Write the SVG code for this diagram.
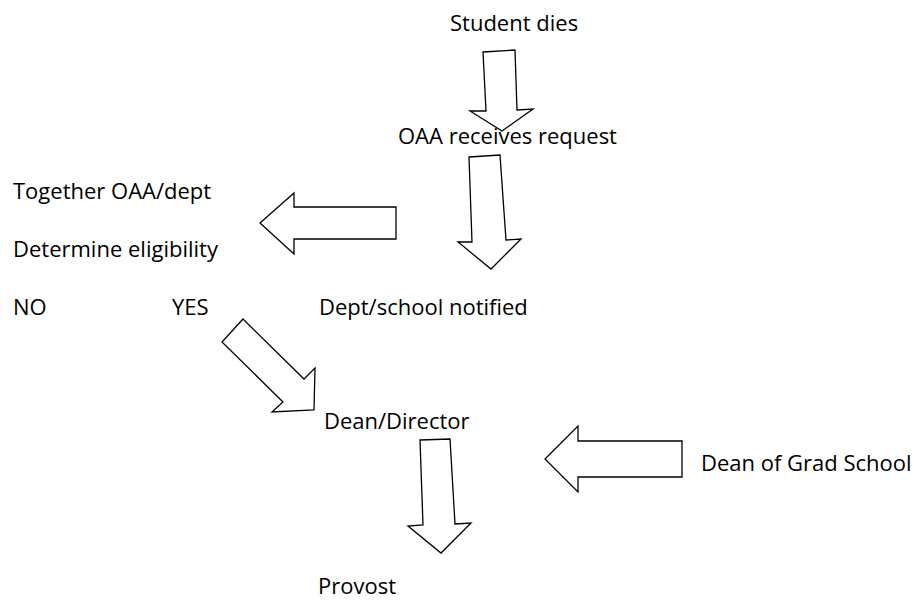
<svg xmlns="http://www.w3.org/2000/svg" width="914" height="602" viewBox="0 0 914 602">
<style>
text{font-family:"Open Sans","Liberation Sans",sans-serif;font-size:22px;fill:#000}
.arr{fill:#fff;stroke:#000;stroke-width:1.3;stroke-linejoin:miter}
</style>
<rect width="914" height="602" fill="#fff"/>
<g id="connectors">
<polygon class="arr" points="483,52 515,50 517,110 533,109 502,131 470,111 486,111"/>
<polygon class="arr" points="469,157 500,155 506,240 521,239 491,269 458,242 472,242"/>
<polygon class="arr" points="396,207 294,207 294,193 260,223 294,254 294,239 396,239"/>
<polygon class="arr" points="243,319 304,379 315,368 314,410 272,412 283,402 222,342"/>
<polygon class="arr" points="420,440 450,439 455,524 471,523 441,553 408,526 423,525"/>
<polygon class="arr" points="682,441 578,441 578,426 545,459 578,492 578,477 682,477"/>
</g>
<g id="n1"><text x="450" y="31">Student dies</text></g>
<g id="n2"><text x="398" y="144">OAA receives request</text></g>
<g id="n3"><text x="13" y="199">Together OAA/dept</text></g>
<g id="n4"><text x="13" y="257">Determine eligibility</text></g>
<g id="n5"><text x="13" y="315">NO</text></g>
<g id="n6"><text x="172" y="315">YES</text></g>
<g id="n7"><text x="319" y="315">Dept/school notified</text></g>
<g id="n8"><text x="324" y="429">Dean/Director</text></g>
<g id="n9"><text x="701" y="471">Dean of Grad School</text></g>
<g id="n10"><text x="318" y="594">Provost</text></g>
</svg>
